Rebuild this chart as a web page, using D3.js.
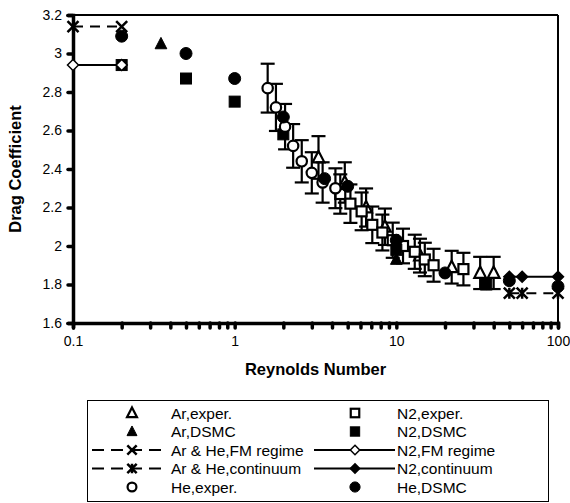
<!DOCTYPE html>
<html><head><meta charset="utf-8">
<script src="https://cdn.jsdelivr.net/npm/d3@7"></script>
<style>
html,body{margin:0;padding:0;background:#fff;}
svg{display:block;font-family:"Liberation Sans",Arial,sans-serif;}
</style></head>
<body>
<svg id="c" width="570" height="503"></svg>
<script>
// ---- data ----
const xTickLabels = ["0.1", "1", "10", "100"];
const yTickLabels = ["1.6", "1.8", "2", "2.2", "2.4", "2.6", "2.8", "3", "3.2"];

const arExpRe = [3.3, 4.8, 6.5, 8.5, 14, 22, 33, 40];
const arExpCd = [2.46, 2.33, 2.20, 2.10, 1.95, 1.89, 1.86, 1.86];
const n2ExpRe = [4.5, 5.2, 6.1, 7.1, 8.2, 9.5, 11, 13, 15, 17, 26];
const n2ExpCd = [2.27, 2.22, 2.18, 2.11, 2.07, 2.03, 2.00, 1.97, 1.93, 1.90, 1.88];
const arDsmcRe = [0.35, 10];
const arDsmcCd = [3.05, 1.93];
const n2DsmcRe = [0.2, 0.5, 1, 2, 10, 36];
const n2DsmcCd = [2.94, 2.87, 2.75, 2.58, 1.98, 1.80];
const fmRe = [0.1, 0.2];
const fmArHeCd = [3.14, 3.14];
const fmN2Cd = [2.94, 2.94];
const contRe = [50, 60, 100];
const contArHeCd = [1.755, 1.755, 1.755];
const contN2Cd = [1.84, 1.84, 1.84];
const heExpRe = [1.6, 1.8, 2.05, 2.3, 2.6, 3.0, 3.5, 4.2];
const heExpCd = [2.82, 2.72, 2.62, 2.52, 2.44, 2.38, 2.33, 2.30];
const heDsmcRe = [0.2, 0.5, 1, 2, 3.6, 5, 10, 20, 50, 100];
const heDsmcCd = [3.09, 3.00, 2.87, 2.67, 2.35, 2.31, 2.03, 1.86, 1.82, 1.79];
const errFrac = 0.045; // experimental error bars, fraction of value

const seriesNames = ["Ar,exper.", "N2,exper.", "Ar,DSMC", "N2,DSMC", "Ar & He,FM regime",
  "N2,FM regime", "Ar & He,continuum", "N2,continuum", "He,exper.", "He,DSMC"];

// ---- build ----
const zip = (a, b) => a.map((v, i) => ({x: v, y: b[i]}));
const series = [
  {name: seriesNames[0], pts: zip(arExpRe, arExpCd), marker: "tri", fill: "#fff", err: true},
  {name: seriesNames[1], pts: zip(n2ExpRe, n2ExpCd), marker: "sq", fill: "#fff", err: true},
  {name: seriesNames[2], pts: zip(arDsmcRe, arDsmcCd), marker: "tri", fill: "#000"},
  {name: seriesNames[3], pts: zip(n2DsmcRe, n2DsmcCd), marker: "sq", fill: "#000"},
  {name: seriesNames[4], pts: zip(fmRe, fmArHeCd), marker: "x", line: "dash"},
  {name: seriesNames[5], pts: zip(fmRe, fmN2Cd), marker: "dia", fill: "#fff", line: "solid"},
  {name: seriesNames[6], pts: zip(contRe, contArHeCd), marker: "star", line: "dash"},
  {name: seriesNames[7], pts: zip(contRe, contN2Cd), marker: "dia", fill: "#000", line: "solid"},
  {name: seriesNames[8], pts: zip(heExpRe, heExpCd), marker: "circ", fill: "#fff", err: true},
  {name: seriesNames[9], pts: zip(heDsmcRe, heDsmcCd), marker: "circ", fill: "#000"}
];

const svg = d3.select("#c");
const L = 73, R = 558, T = 15, B = 323;
const x = d3.scaleLog().domain([0.1, 100]).range([L, R]);
const y = d3.scaleLinear().domain([1.6, 3.2]).range([B, T]);

// frame (top & right)
svg.append("line").attr("x1", L).attr("x2", R).attr("y1", T).attr("y2", T).attr("stroke", "#000").attr("stroke-width", 2);
svg.append("line").attr("x1", R).attr("x2", R).attr("y1", T).attr("y2", B).attr("stroke", "#000").attr("stroke-width", 2);

// y axis
const yTicks = yTickLabels.map(Number);
const yAx = svg.append("g").attr("transform", `translate(${L},0)`)
  .call(d3.axisLeft(y).tickValues(yTicks).tickSize(5).tickPadding(6).tickFormat((d, i) => yTickLabels[i]));
yAx.select(".domain").attr("stroke-width", 3.5);
yAx.selectAll(".tick line").attr("stroke-width", 3.5).attr("stroke-linecap", "round");
yAx.selectAll("text").attr("font-size", 14).attr("font-family", "Liberation Sans, Arial").attr("fill", "#000");

// x axis
const xTicks = [];
[0.1, 1, 10].forEach(d => { for (let k = 1; k <= 9; k++) xTicks.push(+(d * k).toPrecision(3)); });
xTicks.push(100);
const xAx = svg.append("g").attr("transform", `translate(0,${B})`)
  .call(d3.axisBottom(x).tickValues(xTicks).tickSize(5).tickPadding(8)
    .tickFormat(d => { const i = xTickLabels.map(Number).indexOf(d); return i >= 0 ? xTickLabels[i] : ""; }));
xAx.select(".domain").attr("stroke-width", 3.5);
xAx.selectAll(".tick line").attr("stroke-width", 3.5).attr("stroke-linecap", "round");
xAx.selectAll("text").attr("font-size", 14).attr("font-family", "Liberation Sans, Arial").attr("fill", "#000");
svg.selectAll(".domain").attr("stroke-linecap", "round");

// titles
svg.append("text").attr("x", (L + R) / 2).attr("y", 375).attr("text-anchor", "middle")
  .attr("font-size", 16.5).attr("font-weight", "bold").text("Reynolds Number");
svg.append("text").attr("transform", `translate(21,${(T + B) / 2}) rotate(-90)`).attr("text-anchor", "middle")
  .attr("font-size", 16.5).attr("font-weight", "bold").text("Drag Coefficient");

// marker drawing
function drawMarker(g, type, fill, cx, cy, s) {
  s = s || 1;
  if (type === "tri") {
    const r = 6.5 * s;
    g.append("path").attr("d", `M${cx},${cy - r} L${cx + r * 0.9},${cy + r * 0.75} L${cx - r * 0.9},${cy + r * 0.75}Z`)
      .attr("fill", fill).attr("stroke", "#000").attr("stroke-width", fill === "#fff" ? 2.2 : 1).attr("stroke-linejoin", "miter");
  } else if (type === "sq") {
    const h = (fill === "#fff" ? 5 : 5.5) * s;
    g.append("rect").attr("x", cx - h).attr("y", cy - h).attr("width", 2 * h).attr("height", 2 * h)
      .attr("fill", fill).attr("stroke", "#000").attr("stroke-width", fill === "#fff" ? 2.2 : 1);
  } else if (type === "circ") {
    g.append("circle").attr("cx", cx).attr("cy", cy).attr("r", (fill === "#fff" ? 5.2 : 6) * s)
      .attr("fill", fill).attr("stroke", "#000").attr("stroke-width", fill === "#fff" ? 2.2 : 1);
  } else if (type === "dia") {
    const r = 5.5 * s;
    g.append("path").attr("d", `M${cx},${cy - r} L${cx + r},${cy} L${cx},${cy + r} L${cx - r},${cy}Z`)
      .attr("fill", fill).attr("stroke", "#000").attr("stroke-width", 1.5);
  } else if (type === "x" || type === "star") {
    const r = 5.5 * s;
    let d = `M${cx - r},${cy - r} L${cx + r},${cy + r} M${cx + r},${cy - r} L${cx - r},${cy + r}`;
    if (type === "star") d += ` M${cx},${cy - r} L${cx},${cy + r}`;
    g.append("path").attr("d", d).attr("stroke", "#000").attr("stroke-width", 2.5).attr("fill", "none");
  }
}

const plot = svg.append("g");
const lineGen = d3.line().x(d => x(d.x)).y(d => y(d.y));
series.forEach(s => {
  const g = plot.append("g");
  if (s.line) {
    g.append("path").attr("d", lineGen(s.pts)).attr("fill", "none").attr("stroke", "#000")
      .attr("stroke-width", 2).attr("stroke-dasharray", s.line === "dash" ? "10,7" : null);
  }
  if (s.err) {
    s.pts.forEach(p => {
      const y1 = y(p.y * (1 + errFrac)), y2 = y(p.y * (1 - errFrac)), cx = x(p.x);
      g.append("line").attr("x1", cx).attr("x2", cx).attr("y1", y1).attr("y2", y2).attr("stroke", "#000").attr("stroke-width", 2.2);
      [y1, y2].forEach(yy => g.append("line").attr("x1", cx - 7).attr("x2", cx + 7).attr("y1", yy).attr("y2", yy)
        .attr("stroke", "#000").attr("stroke-width", 2.2));
    });
  }
  s.pts.forEach(p => drawMarker(g, s.marker, s.fill || "#000", x(p.x), y(p.y)));
});

// legend
const lg = svg.append("g");
const LX = 87, LY = 400, LW = 461, LH = 101;
lg.append("rect").attr("x", LX + 0.5).attr("y", LY + 0.5).attr("width", LW).attr("height", LH)
  .attr("fill", "#fff").attr("stroke", "#000").attr("stroke-width", 1);
const cols = [{mx: 132, l1: 92, l2: 168, tx: 171}, {mx: 355, l1: 314, l2: 395, tx: 397}];
series.forEach((s, i) => {
  const c = cols[i % 2], row = Math.floor(i / 2);
  const cy = 413 + row * 18.5;
  if (s.line) {
    lg.append("line").attr("x1", c.l1).attr("x2", c.l2).attr("y1", cy).attr("y2", cy).attr("stroke", "#000")
      .attr("stroke-width", 2).attr("stroke-dasharray", s.line === "dash" ? "12,7" : null);
  }
  drawMarker(lg, s.marker, s.fill || "#000", c.mx, cy, 0.85);
  lg.append("text").attr("x", c.tx).attr("y", cy).attr("dy", "0.36em").attr("font-size", 15.5).text(s.name);
});
</script>
</body></html>
